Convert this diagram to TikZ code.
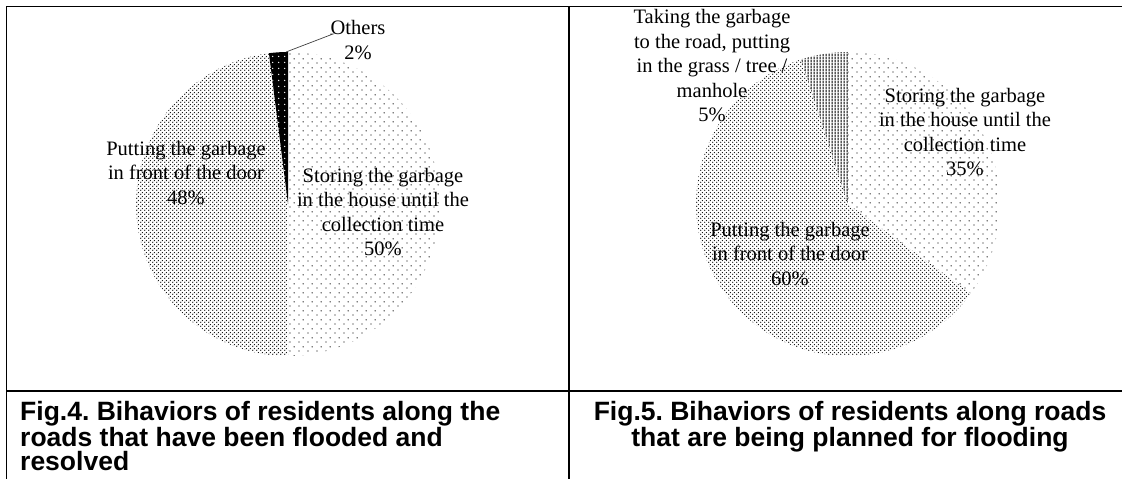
\documentclass[tikz,border=0pt]{standalone}
\usepackage{fontspec}
\setmainfont{Liberation Serif}
\setsansfont{Liberation Sans}
\usetikzlibrary{patterns,positioning,calc}
\frenchspacing

\pgfdeclarepatternformonly{sparsedots}{\pgfpoint{0pt}{0pt}}{\pgfpoint{9pt}{9pt}}{\pgfpoint{9pt}{9pt}}{%
  \pgfpathcircle{\pgfpoint{2.25pt}{2.25pt}}{0.75pt}%
  \pgfpathcircle{\pgfpoint{6.75pt}{6.75pt}}{0.75pt}%
  \pgfusepath{fill}}
\pgfdeclarepatternformonly{densedots}{\pgfpoint{0pt}{0pt}}{\pgfpoint{4pt}{4pt}}{\pgfpoint{4pt}{4pt}}{%
  \pgfpathcircle{\pgfpoint{1pt}{1pt}}{0.8pt}%
  \pgfpathcircle{\pgfpoint{3pt}{3pt}}{0.8pt}%
  \pgfusepath{fill}}
\pgfdeclarepatternformonly{vlines}{\pgfpoint{0pt}{0pt}}{\pgfpoint{3pt}{3pt}}{\pgfpoint{3pt}{3pt}}{%
  \pgfpathrectangle{\pgfpoint{0.9pt}{0pt}}{\pgfpoint{1.3pt}{3pt}}%
  \pgfusepath{fill}}
\pgfdeclarepatternformonly{smalldots}{\pgfpoint{0pt}{0pt}}{\pgfpoint{6pt}{6pt}}{\pgfpoint{6pt}{6pt}}{%
  \pgfpathcircle{\pgfpoint{3pt}{3pt}}{0.8pt}%
  \pgfusepath{fill}}

\begin{document}
\begin{tikzpicture}[x=1pt,y=1pt,
    boxline/.style={line width=1.6pt,black},
    lbl/.style={font=\fontsize{20.5}{24.5}\selectfont,align=center,inner sep=0pt},
    capt/.style={font=\sffamily\bfseries\fontsize{26.5}{24.5}\selectfont,inner sep=0pt},
    leader/.style={line width=0.7pt,black!75}
]
\useasboundingbox (0,0) rectangle (1122,479);

% table rules
\draw[boxline] (1122,472.5) -- (6.5,472.5) -- (6.5,0);
\draw[boxline] (569,472.5) -- (569,0);
\draw[boxline] (6.5,88) -- (1122,88);

% left pie (Fig.4)
\coordinate (cL) at (288,275);
\fill[pattern=sparsedots] (cL) -- ++(90:152) arc[start angle=90,end angle=-90,radius=152] -- cycle;
\fill[pattern=densedots] (cL) -- ++(-90:152) arc[start angle=-90,end angle=-262.8,radius=152] -- cycle;
\fill[black] (cL) -- ++(97.2:152) arc[start angle=97.2,end angle=90,radius=152] -- cycle;
\fill[pattern=smalldots,pattern color=white] (cL) -- ++(97.2:152) arc[start angle=97.2,end angle=90,radius=152] -- cycle;

\node[lbl] (othL) at (358,439) {Others\\2\%};
\node[lbl] (putL) at (186,306) {Putting the garbage\\in front of the door\\48\%};
\node[lbl] (storeL) at (383,267) {Storing the garbage\\in the house until the\\collection time\\50\%};
\coordinate (othTip) at (286,427);
\coordinate (othBend) at (333,445);
\draw[leader] (othTip) -- (othBend) -- (othBend -| othL.west);

% right pie (Fig.5)
\coordinate (cR) at (848,275);
\fill[pattern=sparsedots] (cR) -- ++(90:152) arc[start angle=90,end angle=-36,radius=152] -- cycle;
\fill[pattern=densedots] (cR) -- ++(-36:152) arc[start angle=-36,end angle=-252,radius=152] -- cycle;
\fill[pattern=vlines] (cR) -- ++(108:152) arc[start angle=108,end angle=90,radius=152] -- cycle;

\node[lbl] (takeR) at (712,413) {Taking the garbage\\to the road, putting\\in the grass / tree /\\manhole\\5\%};
\node[lbl] (storeR) at (965,347) {Storing the garbage\\in the house until the\\collection time\\35\%};
\node[lbl] (putR) at (790,225) {Putting the garbage\\in front of the door\\60\%};

% captions
\node[capt,align=left,anchor=north west] (capL) at (20,78) {Fig.4. Bihaviors of residents along the\\roads that have been flooded and\\resolved};
\node[capt,align=center,anchor=north] (capR) at (850,78) {Fig.5. Bihaviors of residents along roads\\that are being planned for flooding};
\end{tikzpicture}
\end{document}
